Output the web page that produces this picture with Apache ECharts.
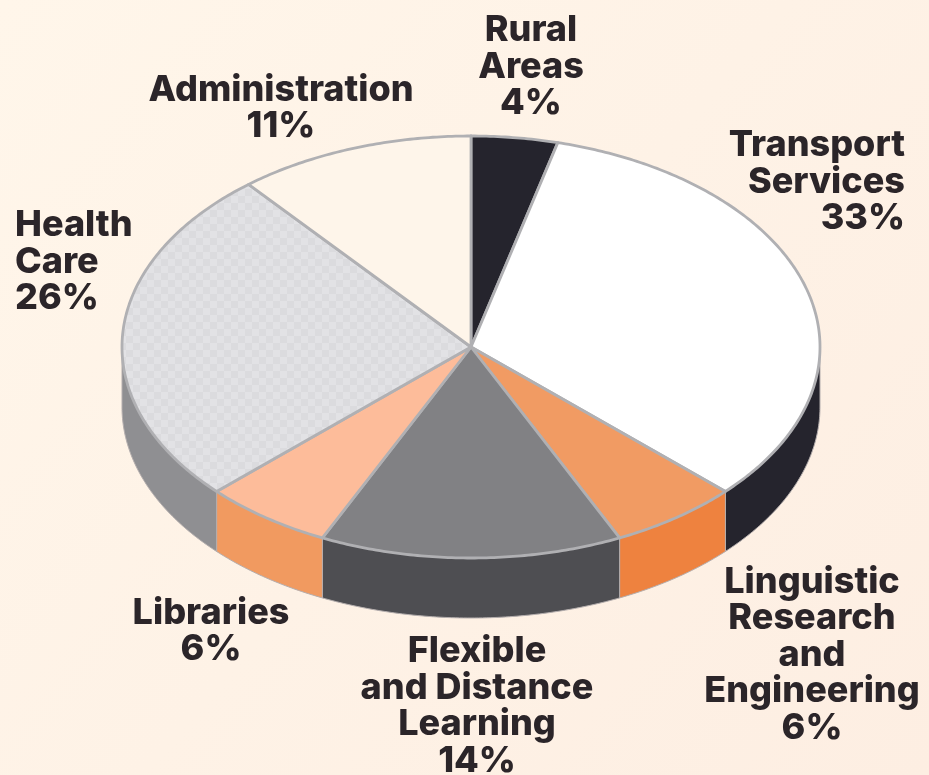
<!DOCTYPE html>
<html><head><meta charset="utf-8">
<style>html,body{margin:0;padding:0;background:#fef4e9}#c{width:929px;height:775px}</style>
<script src="https://cdn.jsdelivr.net/npm/echarts@6/dist/echarts.min.js"></script>
</head><body><div id="c"></div>
<script>
const categories = ['Rural Areas','Transport Services','Linguistic Research and Engineering','Flexible and Distance Learning','Libraries','Health Care','Administration'];
const values = [4,33,6,14,6,26,11];
const labelLines = [['Rural','Areas'],['Transport','Services'],['Linguistic','Research','and','Engineering'],['Flexible','and Distance','Learning'],['Libraries'],['Health','Care'],['Administration']];
const topColors = ['#25242d','#ffffff','#f19b63','#818184','#fdbc9a','#dfdfe2','#fef5ea'];
const wallColors = ['#25242d','#25242d','#ee823f','#4e4e52','#f19a60','#8f8f92','#fef5ea'];
const labelPlaces = [[531,67,'center'],[905,182,'right'],[812,655,'center'],[477,706,'center'],[211,631,'center'],[15,262,'left'],[281,108,'center']];

const cx=471, cy=347, rx=349, ry=211, depth=60;
const total = values.reduce((a,b)=>a+b,0);
const starts=[]; let acc=0; values.forEach(v=>{starts.push(acc/total*Math.PI*2);acc+=v;});
const pt=(t,dy)=>[cx+rx*Math.sin(t), cy-ry*Math.cos(t)+(dy||0)];
function arc(a,b,dy){const n=Math.max(2,Math.ceil((b-a)*90));const p=[];for(let i=0;i<=n;i++)p.push(pt(a+(b-a)*i/n,dy));return p;}

const pc=document.createElement('canvas');pc.width=pc.height=14;
const g=pc.getContext('2d');g.fillStyle='#e2e2e5';g.fillRect(0,0,14,14);g.fillStyle='#dbdbde';g.fillRect(0,0,7,7);g.fillRect(7,7,7,7);

function angles(i){return [starts[i],starts[i]+values[i]/total*Math.PI*2];}
const wallSeries={type:'custom',coordinateSystem:'none',silent:true,z:2,data:values,
  renderItem(p,api){const i=p.dataIndex;let [a,b]=angles(i);a=Math.max(a,Math.PI/2);b=Math.min(b,Math.PI*1.5);
    if(b<=a)return null;
    return {type:'polygon',shape:{points:arc(a,b,0).concat(arc(a,b,depth).reverse())},
      style:{fill:wallColors[i],stroke:'#b4aeae',lineWidth:1}};}};
const topSeries={type:'custom',coordinateSystem:'none',silent:true,z:3,data:values,
  renderItem(p,api){const i=p.dataIndex;const [a,b]=angles(i);
    const fill=categories[i]==='Health Care'?{image:pc,repeat:'repeat'}:topColors[i];
    return {type:'polygon',shape:{points:[[cx,cy]].concat(arc(a,b,0))},
      style:{fill:fill,stroke:'#b0b0b3',lineWidth:2.8,lineJoin:'round'}};}};

const labels=categories.map((c,i)=>({type:'text',x:labelPlaces[i][0],y:labelPlaces[i][1],z:10,silent:true,
  style:{text:labelLines[i].concat([values[i]+'%']).join('\n'),fill:'#2b2529',
    font:'800 36px Inter, "DejaVu Sans", sans-serif',lineHeight:36.6,align:labelPlaces[i][2],verticalAlign:'middle'}}));

echarts.init(document.getElementById('c'),null,{renderer:'canvas'}).setOption({
  animation:false,
  backgroundColor:{type:'linear',x:0,y:0,x2:1,y2:1,colorStops:[{offset:0,color:'#fff6ea'},{offset:1,color:'#fdeee2'}]},
  series:[wallSeries,topSeries],
  graphic:labels
});
</script></body></html>
